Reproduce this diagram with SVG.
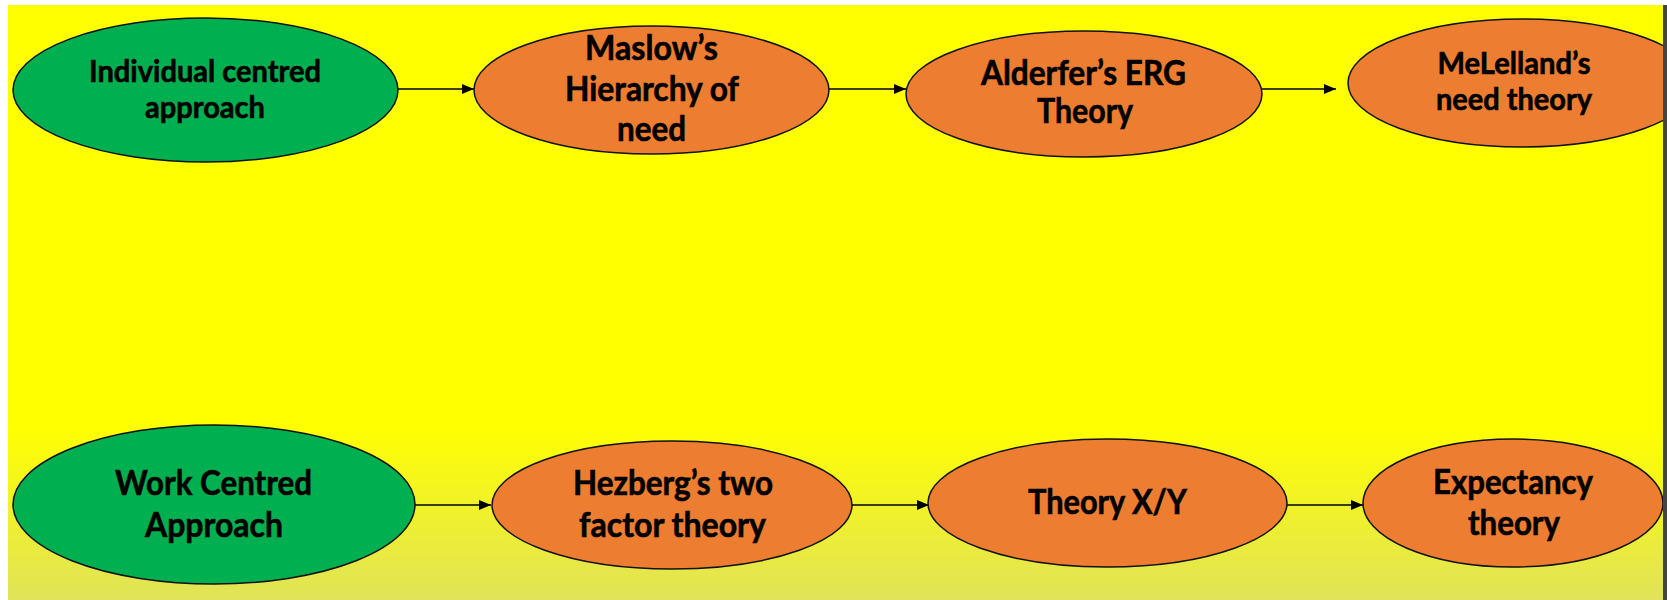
<svg xmlns="http://www.w3.org/2000/svg" width="1667" height="600" viewBox="0 0 1667 600">
<defs>
<linearGradient id="bg" gradientUnits="userSpaceOnUse" x1="0" y1="0" x2="0" y2="600">
<stop offset="0.71" stop-color="#ffff00"/>
<stop offset="1" stop-color="#e0e358"/>
</linearGradient>
<marker id="arr" viewBox="0 0 12 10" refX="12" refY="5" markerWidth="12" markerHeight="10" markerUnits="userSpaceOnUse" orient="auto">
<path d="M0,0 L12,5 L0,10 z" fill="#000"/>
</marker>
<clipPath id="frame"><rect x="8" y="5" width="1655" height="595"/></clipPath>
</defs>
<style>
.green{fill:#00b050;stroke:#111;stroke-width:1.5}
.orange{fill:#ed7d31;stroke:#111;stroke-width:1.5}
text{font-family:Lato,"Open Sans","Liberation Sans",sans-serif;font-weight:bold;fill:#000;stroke:#000;stroke-width:0.6;text-anchor:middle}
.s30{font-size:30px}
.s34{font-size:34px}
.conn{stroke:#000;stroke-width:1.5;fill:none;marker-end:url(#arr)}
</style>
<rect width="1667" height="600" fill="#fff"/>
<rect x="8" y="5" width="1655" height="595" fill="url(#bg)"/>
<rect x="1663" y="5" width="4" height="595" fill="#444"/>
<g clip-path="url(#frame)">
<g id="connectors">
<line class="conn" x1="398" y1="89" x2="474" y2="89"/>
<line class="conn" x1="829" y1="89" x2="906" y2="89"/>
<line class="conn" x1="1262" y1="89" x2="1336" y2="89"/>
<line class="conn" x1="415" y1="505" x2="491" y2="505"/>
<line class="conn" x1="852" y1="505" x2="929" y2="505"/>
<line class="conn" x1="1287" y1="505" x2="1363" y2="505"/>
</g>
<g id="individual">
<ellipse class="green" cx="205.5" cy="90" rx="192.5" ry="72"/>
<text class="s30" x="205" y="82" textLength="232" lengthAdjust="spacingAndGlyphs">Individual centred</text>
<text class="s30" x="205" y="118" textLength="120" lengthAdjust="spacingAndGlyphs">approach</text>
</g>
<g id="maslow">
<ellipse class="orange" cx="651.5" cy="90" rx="177.5" ry="64"/>
<text class="s34" x="651.5" y="60" textLength="133" lengthAdjust="spacingAndGlyphs">Maslow’s</text>
<text class="s34" x="652" y="101" textLength="174" lengthAdjust="spacingAndGlyphs">Hierarchy of</text>
<text class="s34" x="651.5" y="141" textLength="69" lengthAdjust="spacingAndGlyphs">need</text>
</g>
<g id="alderfer">
<ellipse class="orange" cx="1084" cy="94" rx="178" ry="63"/>
<text class="s34" x="1083.5" y="85" textLength="205" lengthAdjust="spacingAndGlyphs">Alderfer’s ERG</text>
<text class="s34" x="1085" y="123" textLength="96" lengthAdjust="spacingAndGlyphs">Theory</text>
</g>
<g id="melelland">
<ellipse class="orange" cx="1522" cy="83" rx="174" ry="64"/>
<text class="s30" x="1514" y="74" textLength="153" lengthAdjust="spacingAndGlyphs">MeLelland’s</text>
<text class="s30" x="1514" y="110" textLength="156" lengthAdjust="spacingAndGlyphs">need theory</text>
</g>
<g id="work">
<ellipse class="green" cx="214" cy="504.5" rx="201" ry="79.5"/>
<text class="s34" x="213.5" y="495" textLength="197" lengthAdjust="spacingAndGlyphs">Work Centred</text>
<text class="s34" x="214" y="537" textLength="138" lengthAdjust="spacingAndGlyphs">Approach</text>
</g>
<g id="hezberg">
<ellipse class="orange" cx="672" cy="505" rx="180" ry="64"/>
<text class="s34" x="673" y="495" textLength="200" lengthAdjust="spacingAndGlyphs">Hezberg’s two</text>
<text class="s34" x="672.5" y="537" textLength="187" lengthAdjust="spacingAndGlyphs">factor theory</text>
</g>
<g id="theoryxy">
<ellipse class="orange" cx="1107.5" cy="503" rx="179.5" ry="64"/>
<text class="s34" x="1107.5" y="514" textLength="159" lengthAdjust="spacingAndGlyphs">Theory X/Y</text>
</g>
<g id="expectancy">
<ellipse class="orange" cx="1513" cy="503" rx="150" ry="64"/>
<text class="s34" x="1513" y="494" textLength="160" lengthAdjust="spacingAndGlyphs">Expectancy</text>
<text class="s34" x="1514" y="535" textLength="92" lengthAdjust="spacingAndGlyphs">theory</text>
</g>
</g>
</svg>
